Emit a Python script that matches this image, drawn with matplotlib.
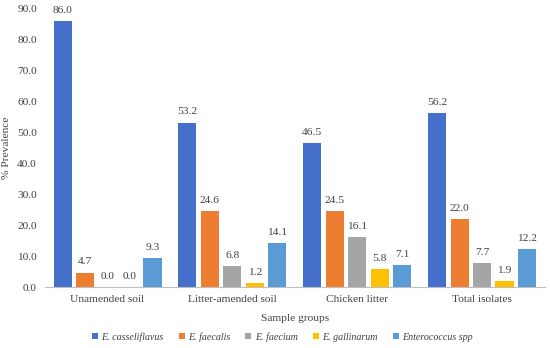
import matplotlib
matplotlib.use("Agg")
import matplotlib.pyplot as plt
import numpy as np

groups = ["Unamended soil", "Litter-amended soil", "Chicken litter", "Total isolates"]
species = ["E. casseliflavus", "E. faecalis", "E. faecium", "E. gallinarum", "Enterococcus spp"]
values = {
    "E. casseliflavus": [86.0, 53.2, 46.5, 56.2],
    "E. faecalis": [4.7, 24.6, 24.5, 22.0],
    "E. faecium": [0.0, 6.8, 16.1, 7.7],
    "E. gallinarum": [0.0, 1.2, 5.8, 1.9],
    "Enterococcus spp": [9.3, 14.1, 7.1, 12.2],
}
colors = ["#4470CC", "#ED7D31", "#A5A5A5", "#FFC000", "#5B9BD5"]
yticks = [0, 10, 20, 30, 40, 50, 60, 70, 80, 90]

plt.rcParams['font.family'] = ['Liberation Serif', 'DejaVu Serif']
fs = 8.2
fig = plt.figure(figsize=(5.5, 3.48), dpi=100)
ax = fig.add_axes([0.082, 0.175, 0.908, 0.80])

x = np.arange(len(groups))
w = 0.145
step = 0.18
for i, sp in enumerate(species):
    pos = x + (i - 2) * step
    bars = ax.bar(pos, values[sp], width=w, color=colors[i], label=sp, zorder=2)
    for b, v in zip(bars, values[sp]):
        ax.text(b.get_x() + b.get_width() / 2, v + 2.0, f"{v:.1f}", ha="center", va="bottom",
                fontsize=fs, color="#404040")

ax.set_xlim(-0.5, 3.5)
ax.set_ylim(0, 90)
ax.set_yticks(yticks)
ax.set_yticklabels([f"{t:.1f}" for t in yticks], fontsize=fs, color="#404040")
ax.set_xticks(x)
ax.set_xticklabels(groups, fontsize=fs, color="#404040")
ax.tick_params(axis="both", length=0, pad=6)
for s in ["top", "right", "left"]:
    ax.spines[s].set_visible(False)
ax.spines["bottom"].set_color("#BFBFBF")
ax.set_xlabel("Sample groups", fontsize=fs, color="#404040", labelpad=7)
ax.set_ylabel("% Prevalence", fontsize=fs, color="#404040", labelpad=4)

leg = ax.legend(loc="center", bbox_to_anchor=(0.475, -0.178), ncol=5, frameon=False,
                fontsize=7.2, handlelength=0.6, handleheight=0.6, columnspacing=1.5,
                handletextpad=0.35)
for t in leg.get_texts():
    t.set_style("italic")
    t.set_color("#404040")

fig.savefig("out.png", dpi=100)
